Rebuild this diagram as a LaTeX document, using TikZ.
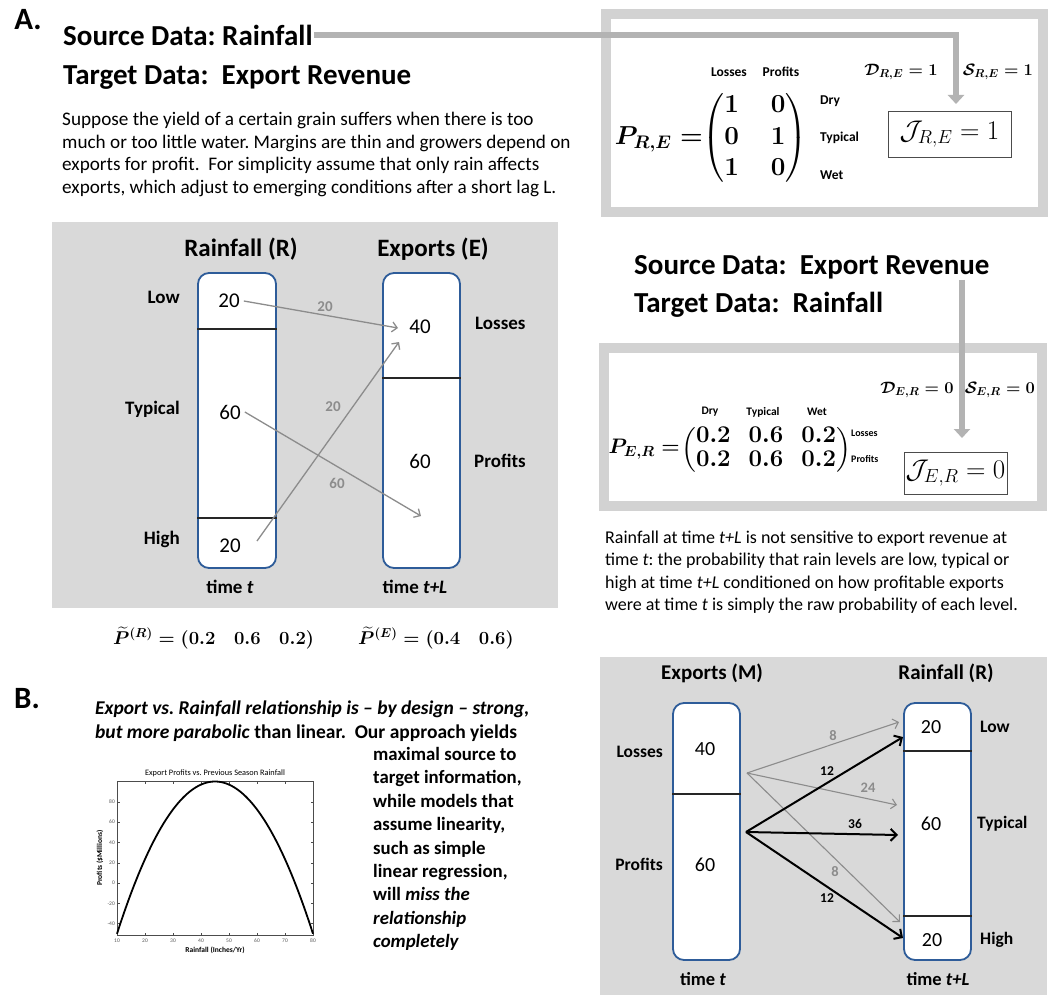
\RequirePackage{fix-cm}
\documentclass[tikz,border=0pt]{standalone}
\usepackage{amsmath}
\usepackage[no-math]{fontspec}
\setmainfont{Carlito}
\usetikzlibrary{arrows.meta}
\definecolor{panelgray}{HTML}{D9D9D9}
\definecolor{framegray}{HTML}{D2D2D2}
\definecolor{bigarr}{HTML}{B3B3B3}
\definecolor{boxblue}{HTML}{2E5C99}
\definecolor{arrgray}{HTML}{8C8C8C}
\newcommand\fsz[2]{\fontsize{#1}{#2}\selectfont}
\frenchspacing
\tikzset{
  seclab/.style={font=\fsz{31}{36}\bfseries, inner sep=0pt},
  headtxt/.style={font=\fsz{29}{34}\bfseries, inner sep=1pt},
  paratxt/.style={align=left, inner sep=0pt},
  frame/.style={draw=framegray, line width=10pt, fill=white},
  bigarrow/.style={draw=bigarr, line width=6.5pt, -{Triangle[length=9pt,width=16pt]}},
  panel/.style={fill=panelgray, draw=none, inner sep=0pt},
  vbox/.style={draw=boxblue, line width=1.8pt, fill=white, rounded corners=11pt, inner sep=0pt},
  divider/.style={line width=1.8pt, black!85},
  colhead/.style={font=\fsz{25}{29}\bfseries, inner sep=0pt},
  num/.style={font=\fsz{21}{25}\selectfont, inner sep=4pt},
  side/.style={font=\fsz{19}{22}\bfseries, inner sep=0pt},
  timel/.style={font=\fsz{19}{22}\bfseries, inner sep=0pt},
  garrow/.style={draw=arrgray, line width=1.3pt, -{Straight Barb[length=5pt,width=10pt]}},
  barrow/.style={draw=black, line width=2pt, -{Straight Barb[length=6pt,width=12pt]}},
  glab/.style={text=arrgray, font=\fsz{15}{17}\bfseries, inner sep=0pt},
  blab/.style={text=black, font=\fsz{13.5}{16}\bfseries, inner sep=0pt},
  mlab/.style={font=\fsz{13.5}{16}\bfseries, inner sep=0pt},
  slab/.style={font=\fsz{11.5}{13}\bfseries, inner sep=0pt},
  jbox/.style={draw=black!70, line width=1pt, fill=white, inner sep=0pt, font=\fsz{27}{32}\selectfont},
  dstxt/.style={font=\fsz{16.5}{20}\mathversion{bold}, inner sep=0pt},
  btxt/.style={align=left, inner sep=0pt},
  tick/.style={line width=0.4pt, black!70},
  ticklab/.style={font=\fsz{5.5}{6.5}\selectfont, text=black!65, inner sep=0pt}
}
\begin{document}
\begin{tikzpicture}[x=1pt,y=-1pt]
\useasboundingbox (0,0) rectangle (1050,998);
\fill[white] (0,0) rectangle (1050,998);

%% ---------------- Section A text ----------------
\node[seclab] (A) at (28,20) {A.};
\node[headtxt, anchor=west] (src1) at (62,35) {Source Data: Rainfall};
\node[headtxt, anchor=west] (tgt1) at (62,78) {Target Data:\ \ Export Revenue};
\node[paratxt, font=\fsz{19.2}{22.7}\selectfont, anchor=north west] (p1) at (62,112) {Suppose the yield of a certain grain suffers when there is too\\
much or too little water. Margins are thin and growers depend on\\
exports for profit.\ \ For simplicity assume that only rain affects\\
exports, which adjust to emerging conditions after a short lag L.};

%% ---------------- top-right frame ----------------
\node[frame, minimum width=437pt, minimum height=198pt] (F1) at (824,113) {};
\node[mlab] (cl1) at (729,72) {Losses};
\node[mlab] (cp1) at (781,72) {Profits};
\node[font=\fsz{26}{30}\mathversion{bold}, inner sep=0pt, anchor=east] (PRE) at (703,139) {$P_{R,E} =$};
\node[font=\fsz{26}{31.5}\mathversion{bold}, inner sep=0pt] (MRE) at (755,138)
  {\setlength\arraycolsep{16pt}$\begin{pmatrix}1 & 0\\ 0 & 1\\ 1 & 0\end{pmatrix}$};
\node[mlab, anchor=west] (rd1) at (820,101) {Dry};
\node[mlab, anchor=west] (rt1) at (820,138) {Typical};
\node[mlab, anchor=west] (rw1) at (820,175) {Wet};
\node[dstxt] (D1) at (901,72) {$\mathcal{D}_{R,E} = 1$};
\node[dstxt] (S1) at (998,72) {$\mathcal{S}_{R,E} = 1$};
\node[jbox, minimum width=123pt, minimum height=46pt] (J1) at (949.5,134) {$\mathcal{J}_{R,E} = 1$};
\coordinate (tip1) at (956,104);
\draw[bigarrow] (src1.east) -| (tip1);

%% ---------------- middle right ----------------
\node[headtxt, anchor=west] (src2) at (633,267) {Source Data:\ \ Export Revenue};
\node[headtxt, anchor=west] (tgt2) at (633,305) {Target Data:\ \ Rainfall};
\node[frame, minimum width=438pt, minimum height=158pt] (F2) at (823,427) {};
\node[slab] (cd2) at (710,412) {Dry};
\node[slab] (ct2) at (763,412) {Typical};
\node[slab] (cw2) at (817,412) {Wet};
\node[font=\fsz{21}{25}\mathversion{bold}, inner sep=0pt, anchor=east] (PER) at (680,449) {$P_{E,R} =$};
\node[font=\fsz{24}{24}\mathversion{bold}, inner sep=0pt, anchor=west] (MER) at (681,450)
  {\setlength\arraycolsep{9pt}$\begin{pmatrix}0.2 & 0.6 & 0.2\\ 0.2 & 0.6 & 0.2\end{pmatrix}$};
\node[slab, font=\fsz{10}{12}\bfseries, anchor=west] (rl2) at (851,433) {Losses};
\node[slab, font=\fsz{10}{12}\bfseries, anchor=west] (rp2) at (851,459) {Profits};
\node[dstxt] (D2) at (917,390) {$\mathcal{D}_{E,R} = 0$};
\node[dstxt] (S2) at (1000,390) {$\mathcal{S}_{E,R} = 0$};
\node[jbox, minimum width=103pt, minimum height=42pt] (J2) at (955.5,473) {$\mathcal{J}_{E,R} = 0$};
\coordinate (tip2) at (962,438);
\draw[bigarrow] (src2.south -| tip2) -- (tip2);

\node[paratxt, font=\fsz{18}{22.2}\selectfont, anchor=north west] (p2) at (605,531) {Rainfall at time \textit{t+L} is not sensitive to export revenue at\\
time \textit{t}: the probability that rain levels are low, typical or\\
high at time \textit{t+L} conditioned on how profitable exports\\
were at time \textit{t} is simply the raw probability of each level.};

%% ---------------- panel A diagram ----------------
\node[panel, minimum width=506pt, minimum height=386pt] (PA) at (305,415) {};
\node[colhead] (hR) at (241,249) {Rainfall (R)};
\node[colhead] (hE) at (433,249) {Exports (E)};
\node[vbox, minimum width=78pt, minimum height=295pt] (Rbox) at (237,420.5) {};
\node[vbox, minimum width=77pt, minimum height=295pt] (Ebox) at (421.5,420.5) {};
\draw[divider] (Rbox.west |- 0,329) -- (Rbox.east |- 0,329);
\draw[divider] (Rbox.west |- 0,518) -- (Rbox.east |- 0,518);
\draw[divider] (Ebox.west |- 0,378) -- (Ebox.east |- 0,378);
\node[num] (r1) at (229,301) {20};
\node[num] (r2) at (230,412) {60};
\node[num] (r3) at (230,546) {20};
\node[num] (e1) at (420,327) {40};
\node[num] (e2) at (420,461) {60};
\node[side, anchor=east] (lLow) at (180,297) {Low};
\node[side, anchor=east] (lTyp) at (180,409) {Typical};
\node[side, anchor=east] (lHigh) at (180,539) {High};
\node[side, anchor=west] (lLoss) at (475,323) {Losses};
\node[side, anchor=west] (lProf) at (474,461) {Profits};
\node[timel] (tR) at (230,587) {time \textit{t}};
\node[timel] (tE) at (415,587) {time \textit{t+L}};
\coordinate (a1e) at (398,328);
\coordinate (a2s) at (257,541);
\coordinate (a2e) at (399,342);
\coordinate (a3e) at (421,516);
\draw[garrow] (r1.east) -- (a1e);
\draw[garrow] (a2s) -- (a2e);
\draw[garrow] (r2.east) -- (a3e);
\node[glab] (g1) at (325,307) {20};
\node[glab] (g2) at (333,407) {20};
\node[glab] (g3) at (337,483) {60};

%% marginal distributions
\node[font=\fsz{18.5}{22}\mathversion{bold}, inner sep=0pt, anchor=west] (PR) at (113,638)
  {$\widetilde{P}^{(R)} = (0.2\quad 0.6\quad 0.2)$};
\node[font=\fsz{18.5}{22}\mathversion{bold}, inner sep=0pt, anchor=west] (PEm) at (358,638)
  {$\widetilde{P}^{(E)} = (0.4\quad 0.6)$};

%% ---------------- Section B ----------------
\node[seclab] (B) at (27,699) {B.};
\node[btxt, font=\fsz{19.5}{23.3}\bfseries, anchor=north west] (bt1) at (95,701) {\textit{Export vs. Rainfall relationship is -- by design -- strong,}\\
\textit{but more parabolic} than linear.\ \ Our approach yields};
\node[btxt, font=\fsz{18.8}{23.4}\bfseries, anchor=north west] (bt2) at (373,747) {maximal source to\\
target information,\\
while models that\\
assume linearity,\\
such as simple\\
linear regression,\\
will \textit{miss the}\\
\textit{relationship}\\
\textit{completely}};

%% plot
\node[inner sep=0pt, minimum width=196pt, minimum height=154pt, draw=black!70, line width=0.6pt] (ax) at (215,858) {};
\foreach \v/\X in {10/117,20/145,30/173,40/201,50/229,60/257,70/285,80/313}{
  \draw[tick] (\X,935) -- (\X,932.5);
  \draw[tick] (\X,781) -- (\X,783.5);
  \node[ticklab] at (\X,941) {\v};
}
\foreach \v in {-40,-20,0,20,40,60,80}{
  \draw[tick] (117,{883-1.015*\v}) -- (119.5,{883-1.015*\v});
  \draw[tick] (313,{883-1.015*\v}) -- (310.5,{883-1.015*\v});
  \node[ticklab, anchor=east] at (115,{883-1.015*\v}) {\v};
}
\draw[line width=1.8pt, black] plot[domain=10:80, samples=80, smooth]
  ({117+(\x-10)*2.8},{883-1.015*(100-150*((\x-45)/35)^2)});
\node[font=\fsz{8.3}{9}\selectfont, inner sep=0pt] (ptitle) at (215,773) {Export Profits vs. Previous Season Rainfall};
\node[font=\fsz{7.5}{8}\bfseries, inner sep=0pt] (pxl) at (215,950) {Rainfall (Inches/Yr)};
\node[font=\fsz{7.5}{8}\bfseries, inner sep=0pt, rotate=90] (pyl) at (100,858) {Profits (\$Millions)};

%% panel B diagram
\node[panel, minimum width=447pt, minimum height=338pt] (PB) at (823.5,826) {};
\node[colhead, font=\fsz{21}{25}\bfseries] (hM) at (712,673) {Exports (M)};
\node[colhead, font=\fsz{21}{25}\bfseries] (hR2) at (946,673) {Rainfall (R)};
\node[vbox, minimum width=67pt, minimum height=257pt] (Mbox) at (706.5,831.5) {};
\node[vbox, minimum width=67pt, minimum height=257pt] (R2box) at (937.5,831.5) {};
\draw[divider] (Mbox.west |- 0,794) -- (Mbox.east |- 0,794);
\draw[divider] (R2box.west |- 0,751) -- (R2box.east |- 0,751);
\draw[divider] (R2box.west |- 0,916) -- (R2box.east |- 0,916);
\node[num, font=\fsz{20}{24}\selectfont] (m1) at (705,749) {40};
\node[num, font=\fsz{20}{24}\selectfont] (m2) at (705,865) {60};
\node[num, font=\fsz{20}{24}\selectfont] (q1) at (931,727) {20};
\node[num, font=\fsz{20}{24}\selectfont] (q2) at (931,824) {60};
\node[num, font=\fsz{20}{24}\selectfont] (q3) at (932,940) {20};
\node[side, font=\fsz{17.5}{20}\bfseries, anchor=east] (bLoss) at (663,752) {Losses};
\node[side, font=\fsz{17.5}{20}\bfseries, anchor=east] (bProf) at (663,864) {Profits};
\node[side, font=\fsz{17.5}{20}\bfseries, anchor=west] (bLow) at (980,727) {Low};
\node[side, font=\fsz{17.5}{20}\bfseries, anchor=west] (bTyp) at (977,824) {Typical};
\node[side, font=\fsz{17.5}{20}\bfseries, anchor=west] (bHigh) at (980,940) {High};
\node[timel, font=\fsz{18.5}{21}\bfseries] (tM) at (703,979) {time \textit{t}};
\node[timel, font=\fsz{18.5}{21}\bfseries] (tR2) at (938,979) {time \textit{t+L}};
\coordinate (gs) at (747,773);
\coordinate (g1e) at (899,722);
\coordinate (g2e) at (897,805);
\coordinate (g3e) at (900,922);
\coordinate (bs) at (746,832);
\coordinate (b1e) at (903,737);
\coordinate (b2e) at (898,835);
\coordinate (b3e) at (903,938);
\draw[garrow, line width=1.1pt] (gs) -- (g1e);
\draw[garrow, line width=1.1pt] (gs) -- (g2e);
\draw[garrow, line width=1.1pt] (gs) -- (g3e);
\draw[barrow] (bs) -- (b1e);
\draw[barrow] (bs) -- (b2e);
\draw[barrow] (bs) -- (b3e);
\node[glab, font=\fsz{14.5}{16}\bfseries] (lg1) at (833,736) {8};
\node[glab, font=\fsz{14.5}{16}\bfseries] (lg2) at (868,788) {24};
\node[glab, font=\fsz{14.5}{16}\bfseries] (lg3) at (835,872) {8};
\node[blab] (lb1) at (827,771) {12};
\node[blab] (lb2) at (855,824) {36};
\node[blab] (lb3) at (827,898) {12};
\end{tikzpicture}
\end{document}
